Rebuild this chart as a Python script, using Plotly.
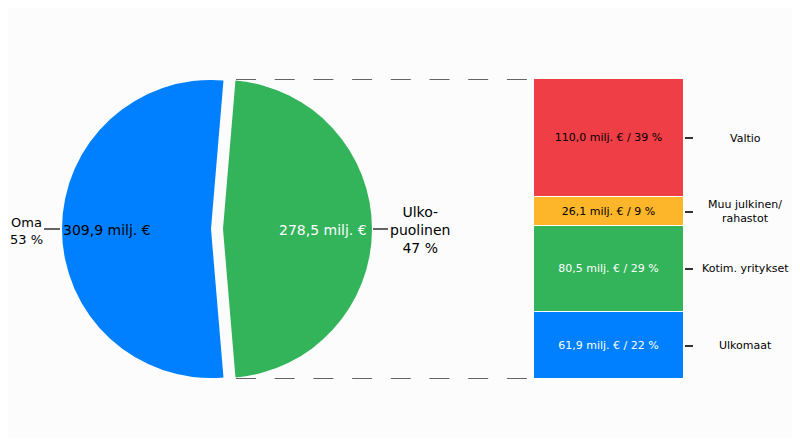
import plotly.graph_objects as go

#------------------------ DATA --------------------------#

# Piirakka: oma vs. ulkopuolinen rahoitus (milj. €)
pie_labels = ["Ulko-<br>puolinen", "Oma"]
pie_values = [278.5, 309.9]
pie_colors = ["#33b35a", "#0080ff"]

# Ulkopuolisen rahoituksen jakauma (alhaalta ylös)
bar_labels = ["Ulkomaat", "Kotim. yritykset", "Muu julkinen/<br>rahastot", "Valtio"]
bar_values = [61.9, 80.5, 26.1, 110.0]
bar_colors = ["#0080ff", "#33b35a", "#fdb52a", "#ef3e45"]
bar_text_colors = ["white", "white", "black", "black"]

font_name = "DejaVu Sans"
line_color = "#333333"

# Sivulla on 8 px marginaali, joten kuva on 792 x 436
W, H = 792, 436


def px(x):
	return (x - 8) / W


def py(y):
	return (444 - y) / H


def milj(v):
	return "{:.1f}".format(v).replace(".", ",") + " milj. €"


pie_total = sum(pie_values)
bar_total = sum(bar_values)
pie_pct = [round(100 * v / pie_total) for v in pie_values]
bar_pct = [round(100 * v / bar_total) for v in bar_values]

#------------------------ KUVA --------------------------#

fig = go.Figure()

# Piirakka, ulkopuolinen siivu vedetty irti oikealle
fig.add_trace(go.Pie(
	labels=pie_labels,
	values=pie_values,
	marker=dict(colors=pie_colors, line=dict(width=0)),
	sort=False,
	direction="clockwise",
	rotation=90 - 180 * pie_values[0] / pie_total,
	pull=[0.0805, 0],
	textinfo="none",
	hoverinfo="none",
	showlegend=False,
	domain=dict(x=[px(50), px(372)], y=[py(390), py(68)])
))

# Pinottu pylväs
mid = []
base = 0
for lab, v, c, tc, p in zip(bar_labels, bar_values, bar_colors, bar_text_colors, bar_pct):
	fig.add_trace(go.Bar(
		x=[0], y=[v], width=1,
		marker=dict(color=c, line=dict(color="white", width=1)),
		text=[milj(v) + " / {} %".format(p)],
		textposition="inside",
		insidetextanchor="middle",
		textangle=0,
		constraintext="none",
		insidetextfont=dict(color=tc, size=11, family=font_name),
		hoverinfo="none",
		showlegend=False
	))
	mid.append(base + v / 2)
	base += v

fig.update_layout(
	barmode="stack",
	bargap=0,
	width=W, height=H,
	margin=dict(l=0, r=0, t=0, b=0),
	paper_bgcolor="white",
	plot_bgcolor="rgba(0,0,0,0)",
	font=dict(family=font_name, color="black"),
	xaxis=dict(domain=[px(534), px(684)], range=[-0.5, 0.5], visible=False),
	yaxis=dict(
		domain=[py(379), py(79)], range=[0, bar_total],
		side="right", showgrid=False, zeroline=False, showline=False,
		showticklabels=False, ticks="outside", ticklen=8, tickwidth=1.5,
		tickcolor=line_color, tickvals=mid
	)
)

# Taustalaatikko
fig.add_shape(type="rect", xref="paper", yref="paper",
	x0=px(5), x1=1, y0=py(438), y1=py(6),
	fillcolor="#fcfcfc", line=dict(width=0), layer="below")

# Katkoviivat piirakasta pylvääseen
for yv in [0, bar_total]:
	fig.add_shape(type="line", xref="paper", yref="y",
		x0=px(236), x1=px(534), y0=yv, y1=yv,
		line=dict(color=line_color, width=1.5, dash="20px,18.7px"))

# Piirakan selitteiden viivat
fig.add_shape(type="line", xref="paper", yref="paper",
	x0=px(44), x1=px(60), y0=py(229), y1=py(229),
	line=dict(color=line_color, width=1.5))
fig.add_shape(type="line", xref="paper", yref="paper",
	x0=px(373), x1=px(388), y0=py(229), y1=py(229),
	line=dict(color=line_color, width=1.5))

# Piirakan tekstit
ann = dict(xref="paper", yref="paper", showarrow=False, xanchor="center", yanchor="middle")
fig.add_annotation(x=px(107), y=py(230), text=milj(pie_values[1]),
	font=dict(size=14, color="black", family=font_name), **ann)
fig.add_annotation(x=px(323), y=py(230), text=milj(pie_values[0]),
	font=dict(size=14, color="white", family=font_name), **ann)
fig.add_annotation(x=px(26), y=py(231), text="{}<br>{} %".format(pie_labels[1], pie_pct[1]),
	font=dict(size=13, family=font_name), **ann)
fig.add_annotation(x=px(420), y=py(230), text="{}<br>{} %".format(pie_labels[0], pie_pct[0]),
	font=dict(size=14, family=font_name), **ann)

# Pylvään luokat oikealla
for lab, m in zip(bar_labels, mid):
	fig.add_annotation(x=px(745), y=m, xref="paper", yref="y",
		xanchor="center", yanchor="middle",
		text=lab, showarrow=False,
		font=dict(size=11, family=font_name))

fig.write_html("out.html")
